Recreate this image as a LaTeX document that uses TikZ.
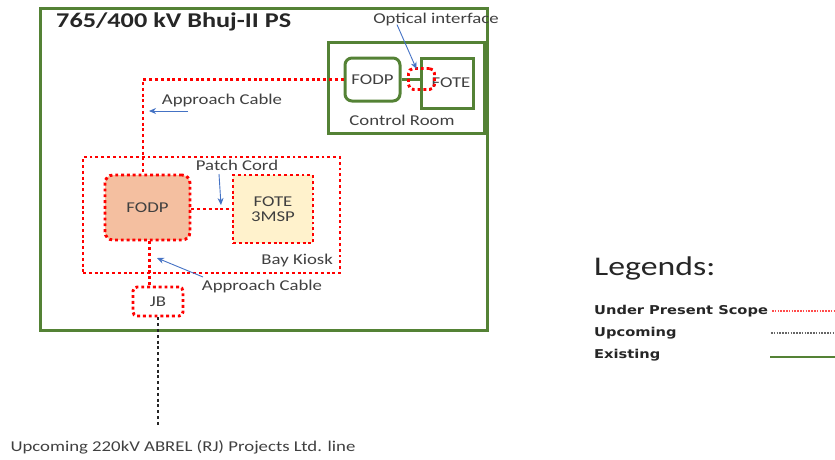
\documentclass[tikz,border=0pt]{standalone}
\usepackage{fontspec}
\setmainfont{Carlito}[FakeStretch=1.25]
\newfontfamily\legfont{DejaVu Sans}[FakeStretch=1.2]
\usetikzlibrary{arrows.meta}
\definecolor{exgreen}{HTML}{548235}
\definecolor{scopered}{HTML}{FF0000}
\definecolor{arrowblue}{HTML}{4472C4}
\definecolor{peach}{HTML}{F4BFA0}
\definecolor{lightyel}{HTML}{FFF2CC}
\definecolor{txtgray}{HTML}{404040}
\tikzset{
  greenbox/.style={draw=exgreen, line width=3, inner sep=0},
  redbox/.style={draw=scopered, line width=2.9, dash pattern=on 2.9 off 2.9, inner sep=0},
  redline/.style={draw=scopered, line width=2.9, dash pattern=on 2.9 off 2.9},
  blackdot/.style={draw=black!85, line width=2.9, dash pattern=on 2.9 off 2.9},
  bluearrow/.style={draw=arrowblue, line width=0.9, -{Stealth[length=7,width=6]}},
  lbl/.style={inner sep=0, text=txtgray, font=\fontsize{15}{17}\selectfont},
  leglbl/.style={inner sep=0, anchor=west, text=black!85, font=\legfont\bfseries\fontsize{12.2}{14}\selectfont},
}
\begin{document}
\begin{tikzpicture}[x=1pt,y=-1pt]
\useasboundingbox (0,0) rectangle (835,459);
% outer substation box
\node[greenbox, minimum width=447, minimum height=322] (ps) at (263.5,169) {};
\node[anchor=west, inner sep=0, text=black!85, font=\bfseries\fontsize{21}{24}\selectfont] (title) at (56,22) {765/400 kV Bhuj-II PS};
% control room
\node[greenbox, minimum width=156, minimum height=91] (cr) at (406,87.5) {};
\node[lbl] (crlbl) at (402,120) {Control Room};
\node[greenbox, rounded corners=7, minimum width=55, minimum height=43, lbl] (cfodp) at (372.5,79.5) {FODP};
\node[greenbox, minimum width=52, minimum height=50, lbl] (cfote) at (447,83) {\hspace*{8pt}FOTE};
\draw[exgreen, line width=3] (cfodp.east) -- (cfodp.east -| cfote.west);
\node[redbox, rounded corners=5, minimum width=26, minimum height=21] (oi) at (421.5,79) {};
\node[lbl] (oilbl) at (436,19) {Optical interface};
\draw[bluearrow] ([xshift=-39,yshift=1]oilbl.south) -- ([xshift=-5,yshift=-2]oi.north);
% approach cable from control room to bay kiosk
\node[redbox, rounded corners=8, fill=peach, minimum width=85, minimum height=65, lbl] (bfodp) at (147.5,207.5) {FODP};
\draw[redline] (cfodp.west) -| ([xshift=-4.5]bfodp.north);
\node[lbl] (ac1) at (222,100) {Approach Cable};
\draw[bluearrow] (188,111) -- (149,111) coordinate (ac1tip);
% bay kiosk
\node[redbox, minimum width=257, minimum height=116] (bk) at (211.5,215) {};
\node[lbl, anchor=east] (bklbl) at (333,260) {Bay Kiosk};
\node[redbox, fill=lightyel, minimum width=80, minimum height=68, lbl, align=center] (bfote) at (273,209) {FOTE\\[-2pt]3MSP};
\draw[redline] (bfodp.east |- 0,209) -- (bfote.west |- 0,209);
\node[lbl] (pc) at (237,165) {Patch Cord};
\draw[bluearrow] (219,174) -- (221,205);
% JB
\node[redbox, rounded corners=4, minimum width=50, minimum height=29, lbl] (jb) at (158,301.5) {JB};
\draw[redline] ([xshift=2]bfodp.south) -- ([xshift=2]bfodp.south |- jb.north);
\node[lbl] (ac2) at (262,286) {Approach Cable};
\draw[bluearrow] (203,277) -- (157,258);
% upcoming line
\coordinate (lineend) at (158,425);
\draw[blackdot] (jb.south) -- (lineend);
\node[lbl] (uplbl) at (183,447) {Upcoming 220kV ABREL (RJ) Projects Ltd. line};
% legend
\node[anchor=west, inner sep=0, text=black!85, font=\fontsize{27}{31}\selectfont] (leg) at (594,268) {Legends:};
\node[leglbl] (l1) at (594,311) {Under Present Scope};
\node[leglbl] (l2) at (594,333) {Upcoming};
\node[leglbl] (l3) at (594,355) {Existing};
\coordinate (l1a) at (772,311); \coordinate (l1b) at (835,311);
\coordinate (l2a) at (771,333); \coordinate (l2b) at (835,333);
\coordinate (l3a) at (770,357); \coordinate (l3b) at (835,357);
\draw[scopered!70, line width=1.6, dash pattern=on 1.6 off 1.2] (l1a) -- (l1b);
\draw[black!60, line width=1.4, dash pattern=on 1.6 off 1.2] (l2a) -- (l2b);
\draw[exgreen, line width=2.2] (l3a) -- (l3b);
\end{tikzpicture}
\end{document}
